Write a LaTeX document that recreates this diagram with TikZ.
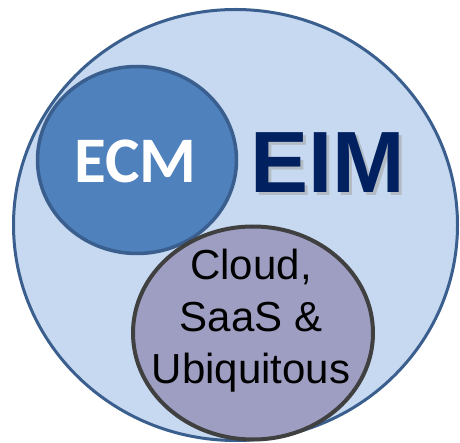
\documentclass[tikz,border=0pt]{standalone}
\usepackage{fontspec}
\usetikzlibrary{shapes.geometric}
\setmainfont{Liberation Sans}
\newfontfamily\carlito{Carlito}
\definecolor{outerfill}{HTML}{C6D9F0}
\definecolor{outerline}{HTML}{3A5F8E}
\definecolor{ecmfill}{HTML}{4F81BD}
\definecolor{cloudfill}{HTML}{9E9EC2}
\definecolor{cloudline}{HTML}{404040}
\definecolor{eimcol}{HTML}{002060}
\begin{document}
\begin{tikzpicture}[x=1pt,y=-1pt,
  setshape/.style={ellipse, inner sep=0pt, outer sep=0pt},
]
\useasboundingbox (0,0) rectangle (460,443);
% outer set
\node[setshape, fill=outerfill, draw=outerline, line width=3pt, minimum width=444pt, minimum height=431pt] (eim) at (235.5,225) {};
% ECM
\node[setshape, fill=ecmfill, draw=outerline, line width=3.5pt, minimum width=199pt, minimum height=187pt] (ecm) at (137,160) {};
% Cloud
\node[setshape, fill=cloudfill, draw=cloudline, line width=4pt, minimum width=240pt, minimum height=213pt] (cloud) at (253,333) {};
% texts
\node[text=gray!70, opacity=0.6, font=\fontsize{87}{87}\selectfont\bfseries, inner sep=0pt, anchor=base] (eimshadow) at (330.5,195.5) {EIM};
\node[text=eimcol, font=\fontsize{87}{87}\selectfont\bfseries, inner sep=0pt, anchor=base] (eimtext) at (328,193) {EIM};
\node[text=white, font=\carlito\fontsize{65}{65}\selectfont\bfseries, inner sep=0pt, anchor=base] (ecmtext) at (135.5,183) {ECM};
\node[text=black, font=\fontsize{42}{52}\selectfont, inner sep=0pt, align=center, anchor=base] (cloudtext) at (251,383) {Cloud,\\SaaS \&\\Ubiquitous};
\end{tikzpicture}
\end{document}
